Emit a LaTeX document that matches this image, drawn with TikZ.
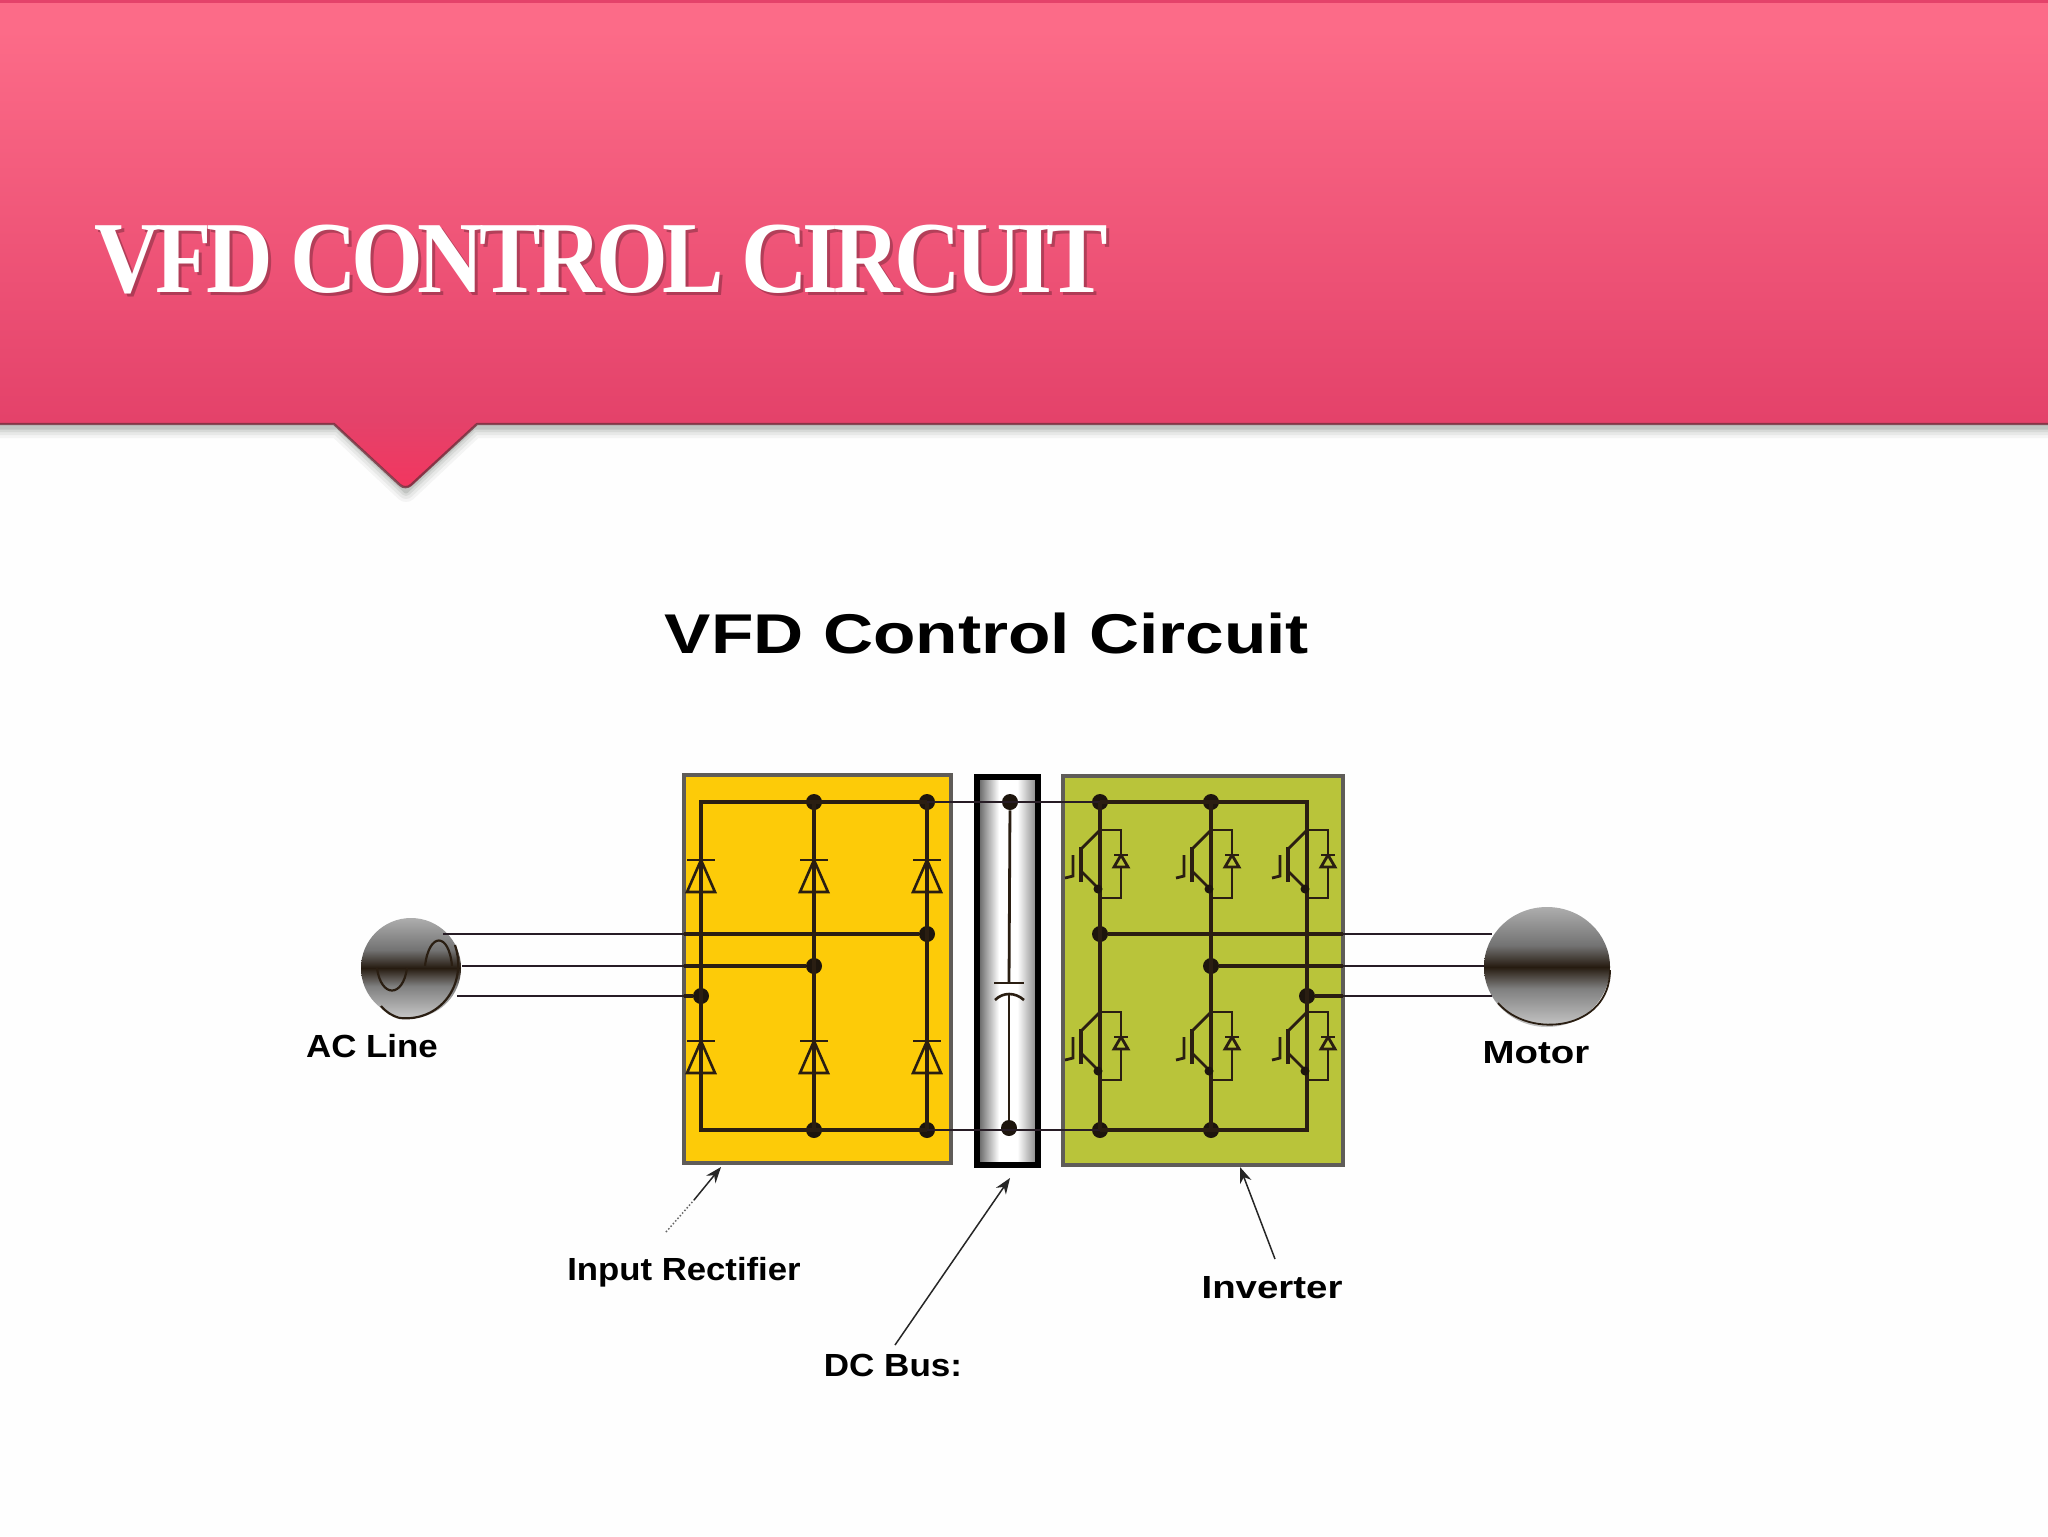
\documentclass[tikz,border=0pt]{standalone}
\usepackage{fontspec}
\setmainfont{Liberation Sans}
\newfontfamily\titlefont[LetterSpace=-6]{Liberation Serif Bold}
\usetikzlibrary{arrows.meta,calc}
\definecolor{wire}{HTML}{2A1E12}
\definecolor{bandA}{HTML}{FC6B88}
\definecolor{bandB}{HTML}{E4426A}
\definecolor{bandC}{HTML}{F2365F}
\definecolor{rectfill}{HTML}{FDCB08}
\definecolor{invfill}{HTML}{B9C43A}
\definecolor{boxedge}{HTML}{5F5C58}
\definecolor{shadowgray}{HTML}{5A625A}
\pgfdeclareverticalshading{bandshade}{100bp}{
  color(0bp)=(bandC); color(25bp)=(bandC); color(32bp)=(bandB); color(72bp)=(bandA); color(100bp)=(bandA)}
\pgfdeclareverticalshading{ballshade}{100bp}{
  color(0bp)=(black!22); color(25bp)=(black!22); color(41bp)=(black!50); color(50bp)=(wire!90!black); color(59bp)=(black!55); color(75bp)=(black!32); color(100bp)=(black!32)}
\pgfdeclarehorizontalshading{busshade}{100bp}{
  color(0bp)=(black!65); color(25bp)=(black!65); color(43bp)=(white); color(58bp)=(white); color(75bp)=(black!50); color(100bp)=(black!50)}
\tikzset{
  wireline/.style={draw=wire,line width=1.7pt},
  outerwire/.style={draw=wire!92!blue,line width=1.3pt},
  thinwire/.style={draw=wire,line width=1.4pt},
  dotnode/.style={circle,fill=wire!70!black,inner sep=0pt,minimum size=8pt},
  smalldot/.style={circle,fill=wire!70!black,inner sep=0pt,minimum size=3.6pt},
  lbl/.style={font=\bfseries\fontsize{16}{16}\selectfont,inner sep=0pt,text=black},
  callout/.style={draw=black!85,line width=.75pt},
  calltip/.style={callout,-{Stealth[length=8pt,width=6pt]}},
  pics/rectdiode/.style={code={
    \draw[wireline,line width=1.3pt,line join=miter] (-14,32) -- (14,32) -- (0,0) -- cycle;
    \draw[wireline,line width=1.3pt] (-14,0) -- (14,0);
  }},
  pics/igbt/.style={code={
    \draw[thinwire] (0,0) -- (21,0) -- (21,68) -- (0,68);
    \draw[thinwire] (0,0) -- (-19,19);
    \draw[thinwire] (-18,42) -- (-2,58);
    \draw[wireline,line width=1.6pt] (-19,17) -- (-19,52);
    \draw[thinwire] (-27,25) -- (-27,46) -- (-35,48);
    \node[smalldot,minimum size=4.5pt] at (-2,59) {};
    \draw[thinwire,line join=miter,fill=invfill] (14,37) -- (28,37) -- (21,25) -- cycle;
    \draw[thinwire] (14,25) -- (28,25);
  }}
}
\begin{document}
\begin{tikzpicture}[x=0.5pt,y=-0.5pt]
\useasboundingbox (0,0) rectangle (2048,1536);
\fill[white!99.6!black] (0,0) rectangle (2048,1536);

\foreach \w/\o in {22/.06,16/.08,10/.11,5/.16}{
  \draw[line width=\w*0.5pt,shadowgray,opacity=\o,line join=round]
    (0,427) -- (338,427) -- (406,491) -- (474,427) -- (2048,427);
}
\path[shading=bandshade]
  (0,0) -- (2048,0) -- (2048,424) -- (477,424) -- (412,485)
  arc[start angle=47,end angle=133,radius=8] -- (334,424) -- (0,424) -- cycle;
\draw[line width=1.2pt,draw=bandA!45!black,opacity=.8,line join=round]
  (0,424) -- (334,424) -- (400,485) arc[start angle=133,end angle=47,radius=8] -- (477,424) -- (2048,424);
\fill[bandB] (0,0) rectangle (2048,3);

\node[font=\titlefont\fontsize{51}{51}\selectfont,text=black,opacity=.25,anchor=base west,inner sep=0pt] (titleshadow) at (97,295)
  {\scalebox{.905}[1]{VFD CONTROL CIRCUIT}};
\node[font=\titlefont\fontsize{51}{51}\selectfont,text=white,anchor=base west,inner sep=0pt] (title) at (94,292)
  {\scalebox{.905}[1]{VFD CONTROL CIRCUIT}};

\node[font=\bfseries\fontsize{28}{28}\selectfont,inner sep=0pt,text=black] (head) at (987,633)
  {\scalebox{1.24}[1]{VFD Control Circuit}};

\filldraw[fill=rectfill,draw=boxedge,line width=2.2pt] (684,775) rectangle (951,1163);
\path[shading=busshade] (977,777) rectangle (1038,1165);
\draw[black,line width=2.8pt] (977,777) rectangle (1038,1165);
\filldraw[fill=invfill,draw=boxedge,line width=2.2pt] (1063,776) rectangle (1343,1165);

\path[shading=ballshade] (411,968) circle[radius=50];
\path[shading=ballshade] (1547,967) ellipse[x radius=63,y radius=60];

\coordinate (rTL) at (701,802);
\coordinate (rBL) at (701,1130);
\node[dotnode] (rT2) at (814,802) {};
\node[dotnode] (rT3) at (927,802) {};
\node[dotnode] (rB2) at (814,1130) {};
\node[dotnode] (rB3) at (927,1130) {};
\node[dotnode] (busT) at (1010,802) {};
\node[dotnode] (busB) at (1009,1128) {};
\node[dotnode] (iT1) at (1100,802) {};
\node[dotnode] (iT2) at (1211,802) {};
\coordinate (iT3) at (1307,802);
\node[dotnode] (iB1) at (1100,1130) {};
\node[dotnode] (iB2) at (1211,1130) {};
\coordinate (iB3) at (1307,1130);
\node[dotnode] (rA) at (927,934) {};
\node[dotnode] (rB) at (814,966) {};
\node[dotnode] (rC) at (701,996) {};
\node[dotnode] (iA) at (1100,934) {};
\node[dotnode] (iB) at (1211,966) {};
\node[dotnode] (iC) at (1307,996) {};
\coordinate (acA) at (443,934);
\coordinate (acB) at (462,966);
\coordinate (acC) at (457,996);
\coordinate (mA) at (1492,934);
\coordinate (mB) at (1484,966);
\coordinate (mC) at (1492,996);
\coordinate (capT) at (1009,983);
\coordinate (capB) at (1009,993);
\coordinate (rAe) at (684,934);
\coordinate (rBe) at (684,966);
\coordinate (rCe) at (684,996);
\coordinate (iAe) at (1343,934);
\coordinate (iBe) at (1343,966);
\coordinate (iCe) at (1343,996);

\draw[wireline] (rB3.center) -- (rBL) -- (rTL) -- (rT3.center);
\draw[wireline] (rT2.center) -- (rB2.center);
\draw[wireline] (rT3.center) -- (rB3.center);

\draw[outerwire] (rT3.center) -- (busT.center);
\draw[outerwire] (busT.center) -- (iT1.center);
\draw[outerwire] (rB3.center) -- (rB3.center -| busB);
\draw[outerwire] (rB3.center -| busB) -- (iB1.center);
\draw[thinwire] (busT) -- (capT);
\draw[thinwire] (capB) -- (busB);
\draw[wireline,line width=1.3pt] (994,983) -- (1024,983);
\draw[wireline,line width=1.3pt] (995,1000) .. controls (1003,992) and (1015,992) .. (1024,1000);

\draw[wireline] (iT1.center) -- (iT3) -- (iC.center);
\draw[wireline] (iB1.center) -- (iB3) -- (iC.center);
\draw[wireline] (iT1.center) -- (iB1.center);
\draw[wireline] (iT2.center) -- (iB2.center);

\draw[outerwire] (acA) -- (rAe);
\draw[wireline] (rAe) -- (rA);
\draw[outerwire] (acB) -- (rBe);
\draw[wireline] (rBe) -- (rB);
\draw[outerwire] (acC) -- (rCe);
\draw[wireline] (rCe) -- (rC);
\draw[wireline] (iA) -- (iAe);
\draw[outerwire] (iAe) -- (mA);
\draw[wireline] (iB) -- (iBe);
\draw[outerwire] (iBe) -- (mB);
\draw[wireline] (iC) -- (iCe);
\draw[outerwire] (iCe) -- (mC);

\foreach \px in {701,814,927}{
  \pic at (\px,860) {rectdiode};
  \pic at (\px,1041) {rectdiode};
}
\foreach \px in {1100,1211,1307}{
  \pic at (\px,830) {igbt};
  \pic at (\px,1012) {igbt};
}

\draw[wire,line width=1.1pt] (377,968) .. controls (381,998) and (403,998) .. (407,968);
\draw[wire,line width=1.1pt] (425,966) .. controls (429,932) and (449,932) .. (452,966);
\draw[wire,line width=1.1pt] (455,945) .. controls (468,985) and (440,1022) .. (400,1018) .. controls (392,1016) and (386,1012) .. (381,1006);
\draw[wire,line width=.9pt] (1498,1003) .. controls (1530,1040) and (1610,1030) .. (1610,970);

\node[lbl] (acl) at (372,1046) {\scalebox{1.09}[1]{AC Line}};
\node[lbl] (mot) at (1536,1053) {\scalebox{1.2}[1]{Motor}};
\node[lbl] (inr) at (684,1272) {\scalebox{1.085}[1]{Input Rectifier}};
\node[lbl] (inv) at (1272,1288) {\scalebox{1.2}[1]{Inverter}};
\node[lbl] (dcb) at (893,1365) {\scalebox{1.095}[1]{DC Bus:}};

\coordinate (tipR) at (721,1167);
\coordinate (midR) at (694,1200);
\coordinate (endR) at (666,1232);
\coordinate (tipD) at (1010,1178);
\coordinate (endD) at (895,1345);
\coordinate (tipI) at (1240,1167);
\coordinate (endI) at (1275,1259);
\draw[callout,densely dotted,draw=black!60] (endR) -- (midR);
\draw[calltip] (midR) -- (tipR);
\draw[calltip] (endD) -- (tipD);
\draw[calltip] (endI) -- (tipI);
\end{tikzpicture}
\end{document}
